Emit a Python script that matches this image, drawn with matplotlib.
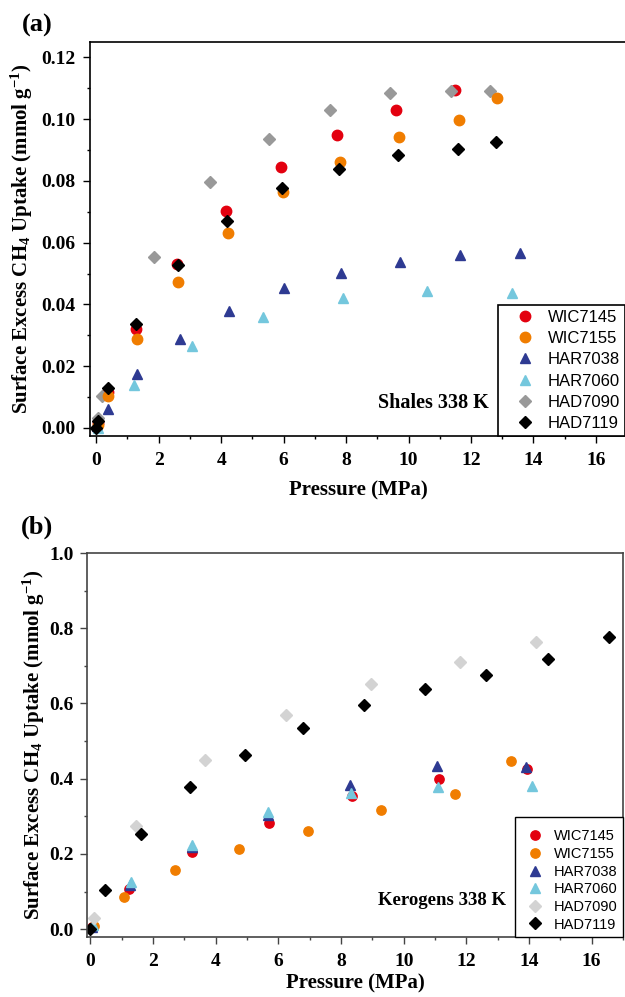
import matplotlib
matplotlib.use("Agg")
import matplotlib.pyplot as plt
from matplotlib.ticker import MultipleLocator, FormatStrFormatter

plt.rcParams['font.family'] = ['Liberation Serif', 'DejaVu Serif']
plt.rcParams['font.weight'] = 'bold'
plt.rcParams['mathtext.fontset'] = 'custom'
plt.rcParams['mathtext.rm'] = 'Liberation Serif:bold'
plt.rcParams['mathtext.it'] = 'Liberation Serif:italic:bold'
plt.rcParams['mathtext.bf'] = 'Liberation Serif:bold'

samples = ["WIC7145", "WIC7155", "HAR7038", "HAR7060", "HAD7090", "HAD7119"]

# ---- Panel (a): Shales 338 K ----
a_wic7145_x = [0.05, 0.38, 1.28, 2.60, 4.17, 5.90, 7.72, 9.61, 11.50]
a_wic7145_y = [0.0015, 0.0115, 0.0320, 0.0530, 0.0702, 0.0845, 0.0950, 0.1030, 0.1095]
a_wic7155_x = [0.05, 0.38, 1.30, 2.63, 4.22, 5.97, 7.80, 9.69, 11.60, 12.82]
a_wic7155_y = [0.0010, 0.0104, 0.0287, 0.0474, 0.0633, 0.0765, 0.0862, 0.0942, 0.0998, 0.1070]
a_har7038_x = [0.03, 0.37, 1.31, 2.67, 4.25, 6.00, 7.84, 9.74, 11.66, 13.57]
a_har7038_y = [0.0005, 0.0061, 0.0175, 0.0289, 0.0379, 0.0452, 0.0502, 0.0538, 0.0560, 0.0567]
a_har7060_x = [0.05, 1.22, 3.07, 5.34, 7.90, 10.58, 13.31]
a_har7060_y = [0.0000, 0.0138, 0.0266, 0.0358, 0.0420, 0.0445, 0.0438]
a_had7090_x = [0.05, 0.20, 1.84, 3.65, 5.54, 7.47, 9.41, 11.35, 12.61]
a_had7090_y = [0.0033, 0.0105, 0.0555, 0.0795, 0.0937, 0.1030, 0.1085, 0.1090, 0.1090]
a_had7119_x = [0.00, 0.05, 0.39, 1.28, 2.63, 4.19, 5.95, 7.78, 9.66, 11.57, 12.81]
a_had7119_y = [0.0000, 0.0023, 0.0130, 0.0338, 0.0527, 0.0670, 0.0778, 0.0840, 0.0885, 0.0902, 0.0925]

# ---- Panel (b): Kerogens 338 K ----
b_wic7145_x = [0.05, 1.23, 3.25, 5.69, 8.35, 11.13, 13.93]
b_wic7145_y = [0.005, 0.107, 0.205, 0.283, 0.355, 0.399, 0.427]
b_wic7155_x = [0.10, 1.07, 2.71, 4.73, 6.96, 9.28, 11.64, 13.44]
b_wic7155_y = [0.008, 0.085, 0.156, 0.213, 0.260, 0.316, 0.360, 0.446]
b_har7038_x = [0.05, 1.27, 3.25, 5.68, 8.30, 11.05, 13.90]
b_har7038_y = [0.005, 0.117, 0.218, 0.303, 0.383, 0.434, 0.432]
b_har7060_x = [0.08, 1.29, 3.25, 5.68, 8.33, 11.10, 14.09]
b_har7060_y = [0.010, 0.125, 0.225, 0.311, 0.362, 0.377, 0.380]
b_had7090_x = [0.10, 1.47, 3.67, 6.23, 8.97, 11.80, 14.21]
b_had7090_y = [0.030, 0.275, 0.451, 0.569, 0.651, 0.709, 0.763]
b_had7119_x = [0.00, 0.45, 1.61, 3.17, 4.92, 6.80, 8.73, 10.67, 12.64, 14.59, 16.56]
b_had7119_y = [0.000, 0.104, 0.254, 0.377, 0.464, 0.536, 0.595, 0.638, 0.675, 0.719, 0.778]

x_ticks = [0, 2, 4, 6, 8, 10, 12, 14, 16]
a_y_ticks = [0.00, 0.02, 0.04, 0.06, 0.08, 0.10, 0.12]
b_y_ticks = [0.0, 0.2, 0.4, 0.6, 0.8, 1.0]

red = '#E3000F'
orange = '#F07D00'
navy = '#2E3A92'
lblue = '#74C7DD'
gray_a = '#999999'
gray_b = '#D3D3D3'

fig = plt.figure(figsize=(6.25, 9.97), dpi=100)
W, H = 625, 997
def ax_rect(l, t, r, b):
    return [l / W, 1 - b / H, (r - l) / W, (b - t) / H]
def fx(px):
    return px / W
def fy(py):
    return 1 - py / H

axa = fig.add_axes(ax_rect(90, 42, 625, 436))
axb = fig.add_axes(ax_rect(87.3, 553, 623, 936.7))

ylabel = r'Surface Excess CH$_4$ Uptake (mmol g$^{-1}$)'

def style(ax, spine_color, ylim, yticks, yminor, fmt, xlim, xpad, ypad):
    ax.set_xlim(*xlim)
    ax.set_ylim(*ylim)
    ax.set_xticks(x_ticks)
    ax.set_yticks(yticks)
    ax.xaxis.set_minor_locator(MultipleLocator(1))
    ax.yaxis.set_minor_locator(MultipleLocator(yminor))
    ax.yaxis.set_major_formatter(FormatStrFormatter(fmt))
    ax.tick_params(which='major', direction='out', length=5, width=1.0,
                   labelsize=14, top=False, right=False, color=spine_color)
    ax.tick_params(which='minor', direction='out', length=2.5, width=1.0,
                   top=False, right=False, color=spine_color)
    ax.tick_params(axis='x', which='major', pad=xpad)
    ax.tick_params(axis='y', which='major', pad=ypad)
    for lab in ax.get_xticklabels() + ax.get_yticklabels():
        lab.set_fontweight('bold')
    for s in ax.spines.values():
        s.set_color(spine_color)
        s.set_linewidth(1.2)

# Panel (a)
kw = dict(linestyle='none')
ha = {}
ha['WIC7145'], = axa.plot(a_wic7145_x, a_wic7145_y, marker='o', ms=7.5, color=red, mec=red, **kw)
ha['HAD7090'], = axa.plot(a_had7090_x, a_had7090_y, marker='D', ms=6.2, color=gray_a, mec=gray_a, **kw)
ha['WIC7155'], = axa.plot(a_wic7155_x, a_wic7155_y, marker='o', ms=7.5, color=orange, mec=orange, **kw)
ha['HAR7038'], = axa.plot(a_har7038_x, a_har7038_y, marker='^', ms=7.5, color=navy, mec=navy, **kw)
ha['HAR7060'], = axa.plot(a_har7060_x, a_har7060_y, marker='^', ms=7.5, color=lblue, mec=lblue, **kw)
ha['HAD7119'], = axa.plot(a_had7119_x, a_had7119_y, marker='D', ms=6.2, color='black', mec='black', **kw)
style(axa, 'black', (-0.0026, 0.125), a_y_ticks, 0.01, '%.2f', (-0.2, 16.93), 6.3, 5.8)
axa.spines['right'].set_visible(False)
leg = axa.legend([ha[s] for s in samples], samples, loc='lower right', borderaxespad=0,
                 fancybox=False, edgecolor='black', framealpha=1,
                 prop={'family': 'Liberation Sans', 'size': 12, 'weight': 'normal'},
                 labelspacing=0.38, handletextpad=0.1, borderpad=0.28, handlelength=2.6)
leg.get_frame().set_linewidth(1.2)
fig.text(fx(489), fy(402.7), 'Shales 338 K', fontsize=14.5, fontweight='bold',
         ha='right', va='center')
fig.text(fx(358), fy(490), 'Pressure (MPa)', fontsize=15, fontweight='bold',
         ha='center', va='center')
fig.text(fx(22), fy(239), ylabel, fontsize=15, fontweight='bold', rotation=90,
         ha='center', va='center')

# Panel (b)
hb = {}
hb['WIC7145'], = axb.plot(b_wic7145_x, b_wic7145_y, marker='o', ms=6.7, color=red, mec=red, **kw)
hb['WIC7155'], = axb.plot(b_wic7155_x, b_wic7155_y, marker='o', ms=6.7, color=orange, mec=orange, **kw)
hb['HAR7038'], = axb.plot(b_har7038_x, b_har7038_y, marker='^', ms=6.7, color=navy, mec=navy, **kw)
hb['HAR7060'], = axb.plot(b_har7060_x, b_har7060_y, marker='^', ms=6.7, color=lblue, mec=lblue, **kw)
hb['HAD7090'], = axb.plot(b_had7090_x, b_had7090_y, marker='D', ms=6.0, color=gray_b, mec=gray_b, **kw)
hb['HAD7119'], = axb.plot(b_had7119_x, b_had7119_y, marker='D', ms=6.0, color='black', mec='black', **kw)
style(axb, '#444444', (-0.02, 1.0), b_y_ticks, 0.1, '%.1f', (-0.1, 17.0), 6.5, 4.6)
legb = axb.legend([hb[s] for s in samples], samples, loc='lower right', borderaxespad=0,
                  fancybox=False, edgecolor='black', framealpha=1,
                  title=' ', title_fontsize=3,
                  prop={'family': 'Liberation Sans', 'size': 10.5, 'weight': 'normal'},
                  labelspacing=0.25, handletextpad=0.36, borderpad=0.35, handlelength=1.96)
legb.get_frame().set_linewidth(1.0)
fig.text(fx(441.7), fy(900.7), 'Kerogens 338 K', fontsize=13.5, fontweight='bold',
         ha='center', va='center')
fig.text(fx(355), fy(983), 'Pressure (MPa)', fontsize=15, fontweight='bold',
         ha='center', va='center')
fig.text(fx(34), fy(745), ylabel, fontsize=15, fontweight='bold', rotation=90,
         ha='center', va='center')

fig.text(fx(37), fy(25), '(a)', fontsize=19, fontweight='bold', ha='center', va='center')
fig.text(fx(37), fy(527), '(b)', fontsize=19, fontweight='bold', ha='center', va='center')

fig.savefig('out.png', dpi=100)
